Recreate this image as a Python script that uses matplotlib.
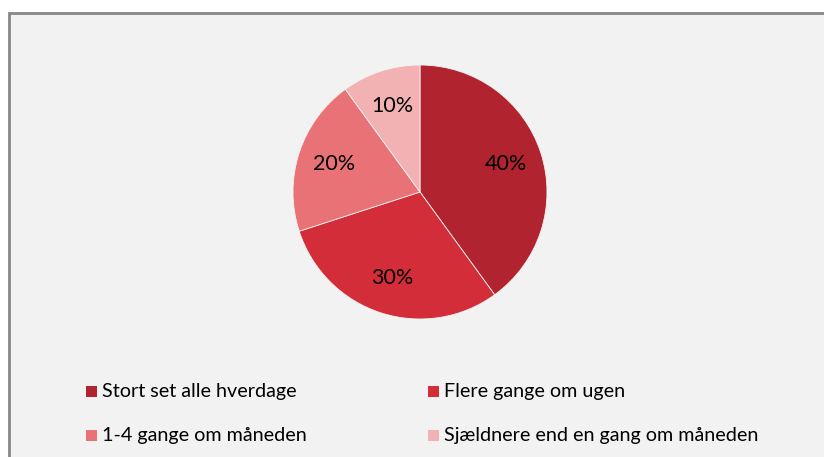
import matplotlib.pyplot as plt
from matplotlib.patches import Rectangle

# data
labels = ["Stort set alle hverdage", "Flere gange om ugen",
          "1-4 gange om måneden", "Sjældnere end en gang om måneden"]
shares = [40, 30, 20, 10]
colors = ["#b0232f", "#d42d3a", "#e87275", "#f2b2b4"]

W, H = 824, 457
plt.rcParams['font.family'] = ['Lato', 'DejaVu Sans']
fig = plt.figure(figsize=(W / 100, H / 100), dpi=100)
fig.patch.set_facecolor("white")

# chart area frame (runs past right and bottom edges)
fig.patches.append(Rectangle((9 / W, -0.1), 1, 1.1 - 13 / H, transform=fig.transFigure,
                             facecolor="#f2f2f2", edgecolor="#878787", linewidth=2,
                             zorder=-10))

cx, cy, r = 420, 192, 127
ax = fig.add_axes([(cx - r) / W, (H - cy - r) / H, 2 * r / W, 2 * r / H])
ax.pie(shares, colors=colors, startangle=90, counterclock=False,
       autopct="%d%%", pctdistance=0.71,
       wedgeprops=dict(edgecolor="#f2f2f2", linewidth=0.6),
       textprops=dict(fontsize=15.5, color="black"))
ax.set_xlim(-1, 1)
ax.set_ylim(-1, 1)
ax.set_axis_off()

# legend, 2 columns
xs = [86, 428]
ys = [391, 435]
for i, lab in enumerate(labels):
    x = xs[i % 2]
    y = ys[i // 2]
    fig.patches.append(Rectangle((x / W, (H - y - 5.5) / H), 11 / W, 11 / H,
                                 transform=fig.transFigure, facecolor=colors[i],
                                 edgecolor="none"))
    fig.text((x + 16) / W, (H - y) / H, lab, fontsize=14.2, va="center", ha="left")

fig.savefig("out.png", dpi=100)
